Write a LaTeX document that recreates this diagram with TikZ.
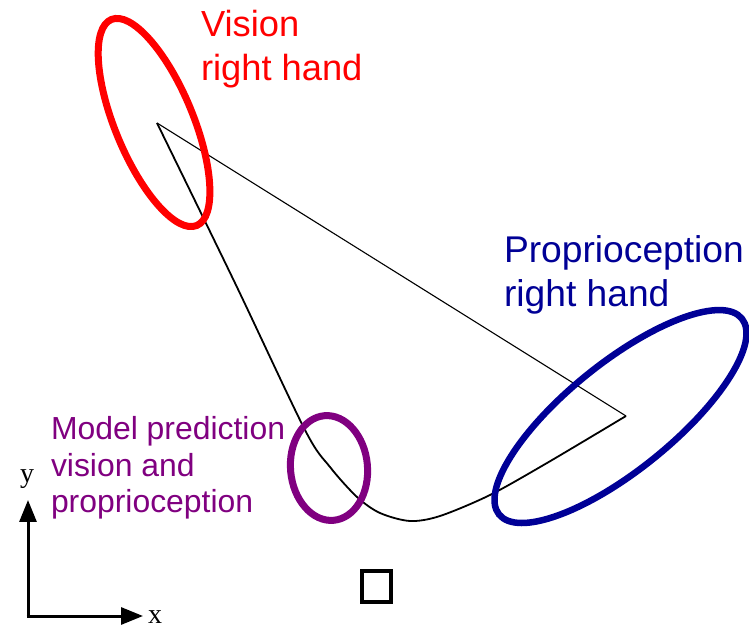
\documentclass[tikz,border=0pt]{standalone}
\usepackage{fontspec}
\setmainfont{Liberation Sans}
\newfontfamily\serifx{Liberation Serif}
\usetikzlibrary{arrows.meta,calc}
\definecolor{vred}{RGB}{255,0,0}
\definecolor{pblue}{RGB}{0,0,150}
\definecolor{mpurple}{RGB}{128,0,128}
\tikzset{
  lbl/.style={anchor=base west, inner sep=0pt, outer sep=0pt},
  redtxt/.style={lbl, text=vred, font=\fontsize{36.3}{42}\selectfont},
  bluetxt/.style={lbl, text=pblue, font=\fontsize{37.2}{43}\selectfont},
  purtxt/.style={lbl, text=mpurple, font=\fontsize{31.9}{37}\selectfont},
  axlbl/.style={lbl, font=\serifx\fontsize{28}{32}\selectfont},
  axis/.style={line width=3pt, -{Triangle[length=22pt,width=17pt]}},
  traj/.style={line width=1.8pt, line join=round},
  ray/.style={line width=1.1pt},
  oval/.style={line width=7pt}
}
\begin{document}
\begin{tikzpicture}[x=1pt,y=1pt]
\useasboundingbox (0,0) rectangle (749,629);
% trajectory
\coordinate (A) at (157,506);
\coordinate (B) at (626,213);
\draw[ray] (A) -- (B);
\draw[traj] plot[smooth, tension=0.5] coordinates {(157,506) (235,346) (305,199) (330,162) (357,132) (380,116) (410,108) (440,113) (490,134) (547,166) (626,213)};
% ellipses
\coordinate (rc) at (154,506.5);
\draw[oval, vred, rotate around={112.5:(rc)}] (rc) ellipse [x radius=111.5pt, y radius=39pt];
\coordinate (bc) at (620.5,212.5);
\draw[oval, pblue, line width=6.5pt, rotate around={38.9:(bc)}] (bc) ellipse [x radius=156pt, y radius=53.5pt];
\coordinate (pc) at (329,161);
\draw[oval, mpurple, rotate around={95:(pc)}] (pc) ellipse [x radius=52.5pt, y radius=38.5pt];
% square
\draw[line width=4pt] (362,27) rectangle (391,58);
% axes
\coordinate (O) at (28,13);
\coordinate (xe) at (143,13);
\coordinate (ye) at (28,129);
\draw[axis] ($(O)+(0,-1.5)$) -- (ye);
\draw[axis] ($(O)+(-1.5,0)$) -- (xe);
\node[axlbl] (xl) at (148,6) {x};
\node[axlbl] (yl) at (20,146) {y};
% labels
\node[redtxt] (v1) at (201,592) {Vision};
\node[redtxt] (v2) at (201,548) {right hand};
\node[bluetxt] (p1) at (504,366) {Proprioception};
\node[bluetxt] (p2) at (504,322) {right hand};
\node[purtxt] (m1) at (51,189) {Model prediction};
\node[purtxt] (m2) at (51,152) {vision and};
\node[purtxt] (m3) at (51,116) {proprioception};
\end{tikzpicture}
\end{document}
